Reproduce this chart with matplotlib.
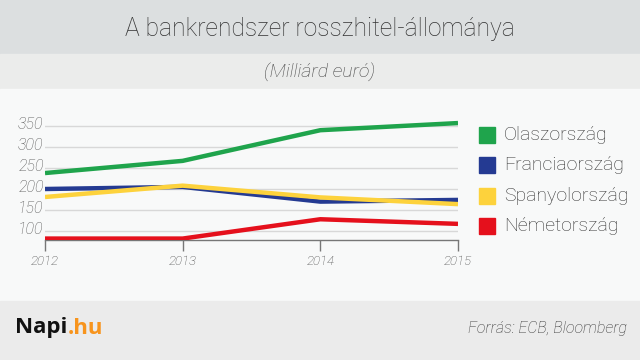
import matplotlib
matplotlib.use("Agg")
import matplotlib.pyplot as plt
import matplotlib.transforms as mtransforms
from matplotlib.patches import Rectangle

plt.rcParams['font.family'] = ['Roboto', 'DejaVu Sans']

years = [2012, 2013, 2014, 2015]
countries = ['Olaszország', 'Franciaország', 'Spanyolország', 'Németország']
italy = [238, 267, 340, 357]
france = [200, 205, 170, 174]
spain = [181, 208, 180, 164]
germany = [82, 82, 128, 117]
series = [italy, france, spain, germany]
colors = ['#1fa44c', '#243a92', '#fdd23c', '#e5101c']
yticks = [100, 150, 200, 250, 300, 350]

W, H = 640, 360
fig = plt.figure(figsize=(6.4, 3.6), dpi=100)

def band(y0, y1, c):
    fig.patches.append(Rectangle((0, 1 - y1 / H), 1, (y1 - y0) / H,
                                 transform=fig.transFigure, color=c, zorder=-10))

band(0, 54, '#dcdfe0')
band(54, 89, '#ebeceb')
band(89, 301, '#f8f9f9')
band(301, 360, '#ebebeb')

fig.text(0.5, 1 - 29 / H, 'A bankrendszer rosszhitel-állománya', ha='center', va='center',
         fontsize=17.7, fontweight='light', color='#333333')
fig.text(0.5, 1 - 72 / H, '(Milliárd euró)', ha='center', va='center',
         fontsize=14, fontweight='light', style='italic', color='#444444')

# axes: bottom at y=240 px, 350 gridline at y=126 px
ylo, yhi = 78.6, 370
px_per = (231 - 126) / 250
top_px = 126 - (yhi - 350) * px_per
ax = fig.add_axes([45 / W, 1 - 240 / H, 413 / W, (240 - top_px) / H])
ax.set_facecolor('none')
for vals, c in zip(series, colors):
    ax.plot(years, vals, color=c, lw=3.2, solid_capstyle='butt', zorder=3)
ax.set_xlim(2012, 2015)
ax.set_ylim(ylo, yhi)
ax.set_yticks(yticks)
ax.set_xticks(years)
ax.grid(axis='y', color='#d8d8d8', lw=1)
for s in ['top', 'right', 'left']:
    ax.spines[s].set_visible(False)
ax.spines['bottom'].set_color('#777777')
ax.spines['bottom'].set_linewidth(1)
ax.tick_params(axis='y', length=0, pad=1, labelsize=11.5, labelcolor='#555555')
ax.tick_params(axis='x', length=8, width=1, color='#777777', pad=3, labelsize=9.5, labelcolor='#444444')
shift = mtransforms.ScaledTranslation(0, 3.5 / 100, fig.dpi_scale_trans)
for lab in ax.get_yticklabels():
    lab.set_transform(lab.get_transform() + shift)
for lab in ax.get_yticklabels() + ax.get_xticklabels():
    lab.set_fontstyle('italic')
    lab.set_fontweight('light')

# legend
rows = [135, 165, 196, 226]
for name, c, yc in zip(countries, colors, rows):
    fig.patches.append(Rectangle((479 / W, 1 - (yc + 8) / H), 16 / W, 16 / H,
                                 transform=fig.transFigure, color=c, zorder=2))
    fig.text(504 / W, 1 - yc / H, name, ha='left', va='center', fontsize=14,
             fontweight='light', color='#333333')

# footer
t1 = fig.text(15 / W, 1 - 328 / H, 'Napi', ha='left', va='center', fontsize=16,
              fontweight='bold', color='#111111', family=['Open Sans', 'DejaVu Sans'])
r = fig.canvas.get_renderer()
bb = t1.get_window_extent(r)
fig.text(bb.x1 / W, 1 - 328 / H, '.hu', ha='left', va='center', fontsize=16,
         fontweight='bold', color='#f7941d', family=['Open Sans', 'DejaVu Sans'])
fig.text(627 / W, 1 - 328 / H, 'Forrás: ECB, Bloomberg', ha='right', va='center',
         fontsize=11.5, fontweight='light', style='italic', color='#333333')

fig.savefig('out.png', dpi=100)
